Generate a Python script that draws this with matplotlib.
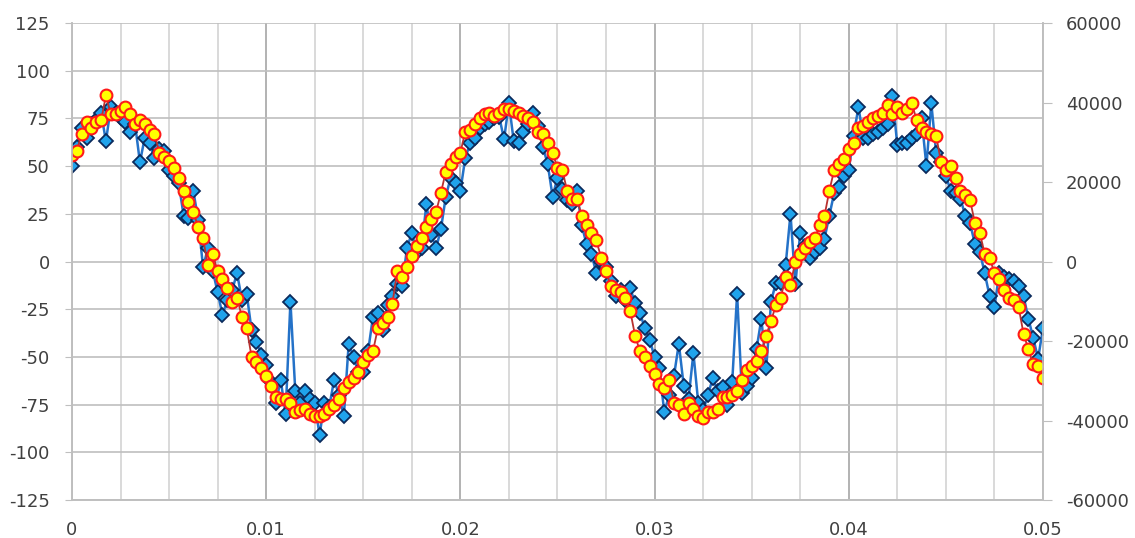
#!/usr/bin/env python
"""Senal medida (eje izq.) vs senal filtrada (eje der.) — 0 a 0.05 s."""

import matplotlib

matplotlib.use("Agg")
import matplotlib.pyplot as plt
import numpy as np
from matplotlib.ticker import FuncFormatter, MultipleLocator

DT = 0.00025  # paso de muestreo (s)

# rombos azules, eje izquierdo
medido = [
    50, 60, 70, 65, 72, 74, 78, 63, 81, 78,
    75, 73, 68, 72, 52, 65, 62, 54, 59, 58,
    48, 45, 41, 24, 23, 37, 22, -3, 7, -5,
    -16, -28, -20, -15, -6, -20, -17, -36, -42, -49,
    -54, -63, -74, -62, -80, -21, -68, -74, -68, -72,
    -74, -91, -74, -76, -62, -70, -81, -43, -50, -58,
    -58, -47, -29, -27, -36, -23, -18, -12, -13, 7,
    15, 5, 7, 30, 14, 7, 17, 34, 44, 41,
    37, 54, 62, 65, 70, 72, 73, 75, 76, 64,
    83, 63, 62, 68, 72, 78, 71, 60, 51, 34,
    44, 38, 32, 30, 37, 19, 9, 4, -6, 0,
    -3, -10, -18, -15, -20, -14, -22, -27, -35, -41,
    -50, -56, -79, -70, -60, -43, -65, -72, -48, -74,
    -78, -70, -61, -68, -66, -75, -63, -17, -69, -65,
    -61, -46, -30, -56, -21, -11, -11, -2, 25, -12,
    15, 8, 2, 5, 7, 12, 24, 36, 39, 45,
    48, 66, 81, 65, 65, 67, 68, 70, 72, 87,
    61, 62, 62, 65, 67, 75, 50, 83, 57, 52,
    45, 37, 36, 33, 24, 20, 9, 5, -6, -18,
    -24, -6, -8, -9, -10, -13, -18, -30, -40, -51,
    -35,
]

# circulos amarillos, eje derecho
filtrado = [
    26900, 27800, 32200, 35000, 33600, 35000, 35500, 41800, 37000, 37000,
    37900, 38900, 37000, 34600, 35500, 34600, 33100, 32200, 27400, 26400,
    25400, 23500, 21100, 17800, 14900, 12500, 8600, 5800, -1000, 1900,
    -2400, -4300, -6700, -10100, -9100, -13900, -16800, -24000, -25400, -26900,
    -28800, -31200, -34100, -34600, -34600, -35500, -37900, -37400, -37000, -38400,
    -38900, -38900, -38400, -37000, -36000, -34600, -31700, -30200, -29300, -27800,
    -25400, -23500, -22600, -16800, -15400, -13900, -10600, -2400, -3800, -1400,
    1400, 3800, 5800, 8600, 10600, 12500, 17300, 22600, 24500, 26400,
    27400, 32600, 33100, 34600, 36000, 37000, 37400, 36500, 37400, 38400,
    38400, 37900, 37400, 36500, 36000, 35000, 32600, 32200, 29800, 27400,
    23500, 23000, 17800, 15800, 15800, 11500, 9100, 7200, 5300, 1000,
    -2400, -6200, -7200, -7700, -9100, -12500, -18700, -22600, -24000, -26400,
    -28300, -30700, -31700, -29800, -35500, -36000, -38400, -35500, -37000, -38900,
    -39400, -37900, -37900, -37000, -34100, -34100, -33600, -32600, -29800, -27400,
    -26400, -25000, -22600, -18700, -14900, -11000, -9100, -3800, -5800, 0,
    1900, 3400, 4800, 5800, 9100, 11500, 17800, 23000, 24500, 25900,
    28300, 29800, 33600, 34100, 35000, 36000, 36500, 37400, 39400, 37000,
    38900, 37400, 38400, 39800, 35500, 33600, 32600, 32200, 31700, 25000,
    23000, 24000, 21100, 17800, 16800, 15400, 9600, 7200, 1900, 1000,
    -2900, -4300, -7200, -9100, -9600, -11500, -18200, -22100, -25900, -26400,
    -29300,
]

X_TICKS = [0, 0.01, 0.02, 0.03, 0.04, 0.05]
Y_LEFT_TICKS = [-125, -100, -75, -50, -25, 0, 25, 50, 75, 100, 125]
Y_RIGHT_TICKS = [-60000, -40000, -20000, 0, 20000, 40000, 60000]


def main() -> int:
    assert len(medido) == len(filtrado)
    t = np.arange(len(medido)) * DT

    plt.rcParams["font.family"] = ["DejaVu Sans"]
    plt.rcParams["font.size"] = 13
    plt.rcParams["axes.unicode_minus"] = False  # guion simple, como en Excel

    fig = plt.figure(figsize=(11.35, 5.38), dpi=100)
    ax = fig.add_axes([0.0634, 0.0706, 0.8555, 0.8866])

    ax.plot(
        t, medido, "-", color="#2472c8", lw=1.8,
        marker="D", ms=7, mfc="#1fa3ec", mec="#0b2a5c", mew=1.3, zorder=3,
    )
    ax.set_xlim(X_TICKS[0], X_TICKS[-1])
    ax.set_ylim(Y_LEFT_TICKS[0], Y_LEFT_TICKS[-1])
    ax.set_xticks(X_TICKS)
    ax.set_yticks(Y_LEFT_TICKS)
    ax.xaxis.set_major_formatter(FuncFormatter(lambda v, _: f"{v:g}"))
    ax.xaxis.set_minor_locator(MultipleLocator(0.0025))
    ax.grid(which="major", axis="x", color="#a6a6a6", lw=1.2)
    ax.grid(which="minor", axis="x", color="#d3d3d3", lw=1.2)
    ax.grid(which="major", axis="y", color="#bfbfbf", lw=1.2)
    ax.set_axisbelow(True)
    ax.tick_params(axis="x", which="both", length=0, pad=15, labelcolor="#404040")
    ax.tick_params(axis="y", length=5, color="#bfbfbf", pad=11, labelcolor="#404040")

    ax2 = ax.twinx()
    ax2.plot(
        t, filtrado, "-", color="#b8312f", lw=1.3,
        marker="o", ms=8.5, mfc="#ffff00", mec="#ff1a1a", mew=1.5,
    )
    ax2.set_ylim(Y_RIGHT_TICKS[0], Y_RIGHT_TICKS[-1])
    ax2.set_yticks(Y_RIGHT_TICKS)
    ax2.tick_params(axis="y", length=6.5, color="#bfbfbf", pad=10, labelcolor="#404040")

    for a in (ax, ax2):
        for side in ("left", "right", "bottom"):
            a.spines[side].set_color("#bfbfbf")
            a.spines[side].set_linewidth(1.2)
        a.spines["top"].set_visible(False)

    fig.savefig("out.png", dpi=100)
    plt.close(fig)
    return 0


if __name__ == "__main__":
    raise SystemExit(main())
